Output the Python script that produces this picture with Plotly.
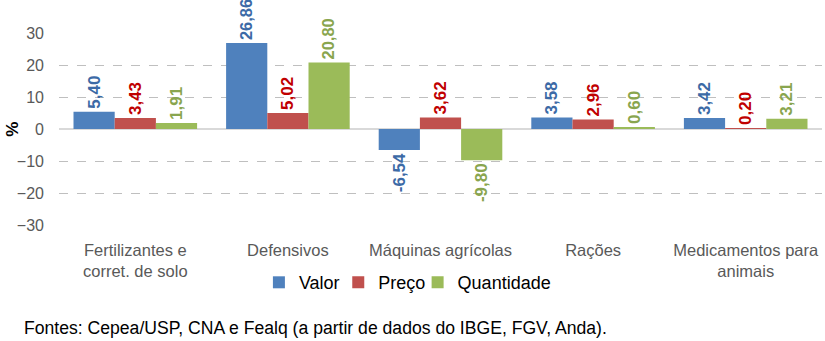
import plotly.graph_objects as go

categories = ["Fertilizantes e<br>corret. de solo", "Defensivos", "Máquinas agrícolas", "Rações", "Medicamentos para<br>animais"]
valor = [5.40, 26.86, -6.54, 3.58, 3.42]
preco = [3.43, 5.02, 3.62, 2.96, 0.20]
quantidade = [1.91, 20.80, -9.80, 0.60, 3.21]
y_ticks = [-30, -20, -10, 0, 10, 20, 30]

FONT = "Liberation Sans, Arial, sans-serif"

series = [
    ("Valor", valor, "#4F81BD", "#3C6AA6", "legend"),
    ("Preço", preco, "#C0504D", "#C00000", "legend2"),
    ("Quantidade", quantidade, "#9BBB59", "#89A54E", "legend3"),
]

fig = go.Figure()
for name, vals, col, tcol, lg in series:
    fig.add_trace(go.Bar(
        x=categories, y=vals, name=name, legend=lg,
        marker=dict(color=col, line=dict(width=0)),
        texttemplate="%{y:.2f}", textposition="outside", textangle=-90,
        textfont=dict(family=FONT, size=17, color=tcol, weight="bold"),
        cliponaxis=False,
    ))

leg_common = dict(orientation="h", xanchor="left", y=-0.30, yanchor="middle",
                  font=dict(family=FONT, size=18, color="#000000"),
                  itemwidth=30, bgcolor="rgba(0,0,0,0)")

fig.update_layout(
    width=825, height=341,
    margin=dict(l=59, r=3, t=33, b=116),
    paper_bgcolor="white", plot_bgcolor="white",
    separators=",.",
    barmode="group", bargap=0.19, bargroupgap=0,
    font=dict(family=FONT, size=16, color="#595959"),
    showlegend=True,
    legend=dict(x=0.262, **leg_common),
    legend2=dict(x=0.366, **leg_common),
    legend3=dict(x=0.470, **leg_common),
)
fig.update_xaxes(showline=False, ticks="", showgrid=False, ticklabelstandoff=13,
                 tickfont=dict(family=FONT, size=16.5, color="#595959"))
fig.update_yaxes(range=[-30, 30], tickvals=y_ticks, showgrid=True,
                 gridcolor="#BFBFBF", griddash="dash", gridwidth=1,
                 zeroline=True, zerolinecolor="#D9D9D9", zerolinewidth=2,
                 showline=False, ticks="", ticklabelstandoff=14,
                 tickfont=dict(family=FONT, size=16, color="#595959"))

fig.add_annotation(text="<b>%</b>", xref="paper", yref="paper", x=-0.062, y=0.5,
                   xanchor="center", yanchor="middle", textangle=-90, showarrow=False,
                   font=dict(family=FONT, size=17, color="#000000"))
fig.add_annotation(text="Fontes: Cepea/USP, CNA e Fealq (a partir de dados do IBGE, FGV, Anda).",
                   xref="paper", yref="paper", x=-0.049, y=-0.536, xanchor="left", yanchor="middle",
                   showarrow=False, font=dict(family=FONT, size=17.6, color="#000000"))

fig.write_html("out.html")
